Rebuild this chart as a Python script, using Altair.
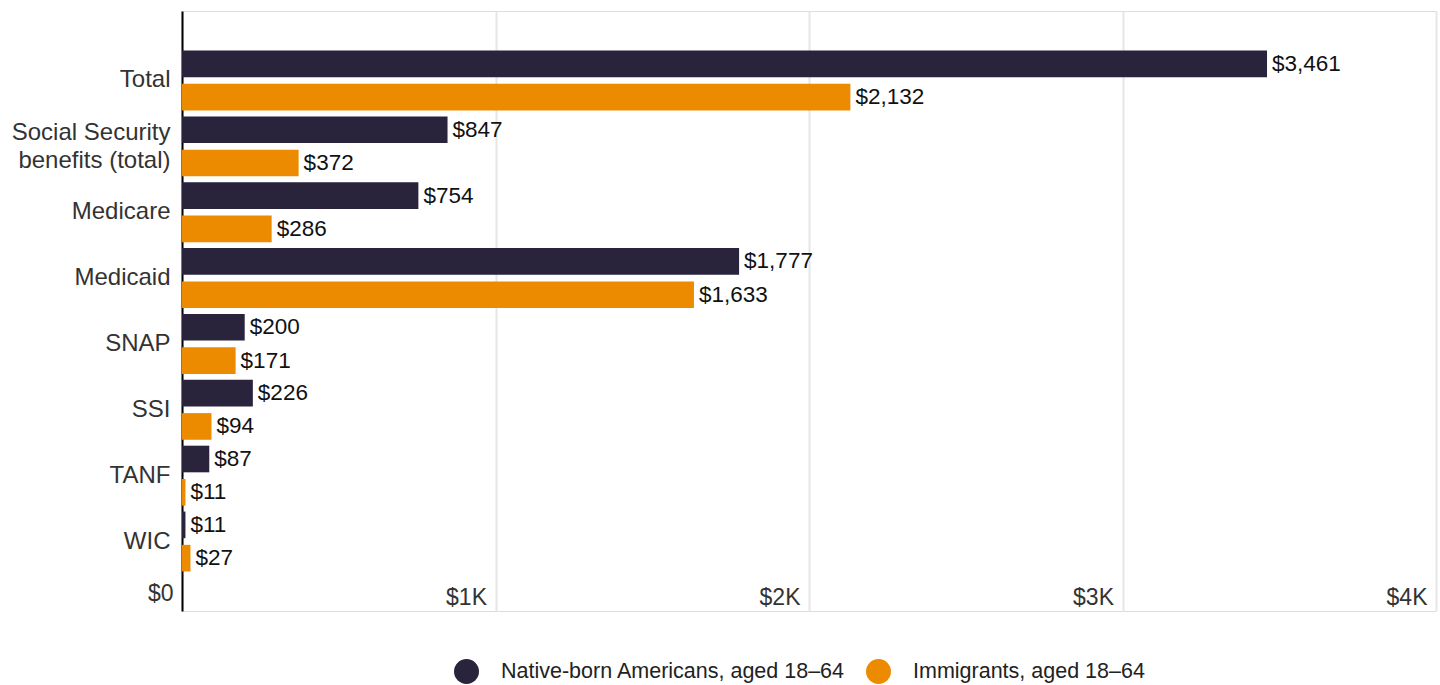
import altair as alt
import pandas as pd

categories = ["Total", "Social Security benefits (total)", "Medicare", "Medicaid",
              "SNAP", "SSI", "TANF", "WIC"]
series = ["Native-born Americans, aged 18–64", "Immigrants, aged 18–64"]
native = [3461, 847, 754, 1777, 200, 226, 87, 11]
immigrants = [2132, 372, 286, 1633, 171, 94, 11, 27]
colors = ["#29233c", "#ec8a00"]

rows = []
for c, n, i in zip(categories, native, immigrants):
    rows.append({"program": c, "group": series[0], "value": n})
    rows.append({"program": c, "group": series[1], "value": i})
df = pd.DataFrame(rows)

FONT = "Liberation Sans"
SS = "Social Security benefits (total)"

y_enc = alt.Y("program:N", sort=categories, title=None,
              scale=alt.Scale(paddingInner=0.09, paddingOuter=0.6),
              axis=alt.Axis(domain=True, domainColor="#000000", domainWidth=2,
                            ticks=False, grid=False, labelFontSize=24,
                            labelColor="#333333", labelPadding=12, labelFont=FONT,
                            labelLineHeight=28, labelLimit=300,
                            labelOffset={"condition": {"test": f"datum.label == '{SS}'", "value": -13},
                                         "value": 0},
                            labelExpr=f"datum.label == '{SS}' ? ['Social Security', 'benefits (total)'] : datum.label"))
yoff = alt.YOffset("group:N", sort=series, scale=alt.Scale(paddingInner=0.2, paddingOuter=0))

x_enc = alt.X("value:Q", title=None,
              scale=alt.Scale(domain=[0, 4000], nice=False),
              axis=alt.Axis(values=[0, 1000, 2000, 3000, 4000], domain=False, ticks=False,
                            grid=True, gridColor="#e6e6e6", gridWidth=2,
                            labelFontSize=23, labelColor="#333333", labelFont=FONT,
                            labelAlign="right", labelOffset=-9, labelBaseline="alphabetic",
                            labelPadding={"condition": {"test": "datum.value == 0", "value": -11},
                                          "value": -7},
                            labelFlush=False,
                            labelExpr="datum.value == 0 ? '$0' : '$' + (datum.value/1000) + 'K'"))

base = alt.Chart(df)

bars = base.mark_bar().encode(
    x=x_enc, y=y_enc, yOffset=yoff,
    color=alt.Color("group:N", sort=series,
                    scale=alt.Scale(domain=series, range=colors),
                    legend=alt.Legend(title=None, orient="none", legendX=272, legendY=648,
                                      direction="horizontal", symbolType="circle",
                                      symbolSize=625, symbolStrokeWidth=0,
                                      labelFontSize=21.5, labelFont=FONT, labelColor="#222222",
                                      labelOffset=22, columnPadding=20, padding=0,
                                      labelLimit=500)),
)

labels = base.mark_text(align="left", baseline="middle", dx=5, fontSize=22.5,
                        font=FONT, color="#111111").encode(
    x="value:Q", y=alt.Y("program:N", sort=categories), yOffset=yoff,
    text=alt.Text("label:N"),
).transform_calculate(label="'$' + format(datum.value, ',')")

chart = alt.layer(bars, labels).properties(
    width=1254, height=600,
    autosize=alt.AutoSizeParams(type="none"),
    padding={"left": 182, "top": 11, "right": 4, "bottom": 74},
).configure_view(stroke=None).configure(background="#ffffff")

chart.save("out.html", embed_options={"renderer": "svg", "actions": False})
